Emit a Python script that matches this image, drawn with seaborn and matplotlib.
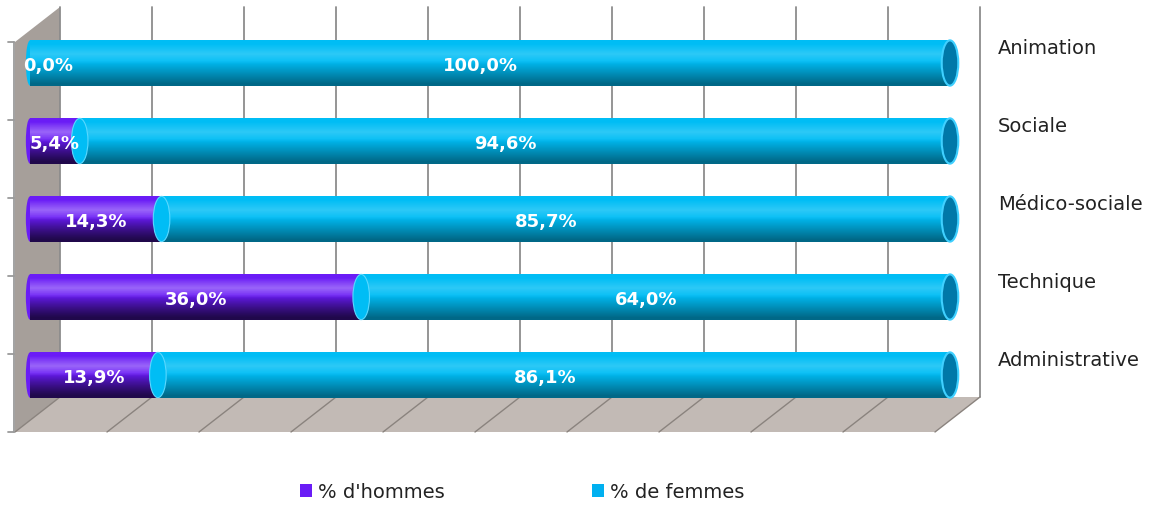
import numpy as np
import pandas as pd
import seaborn as sns
import matplotlib.pyplot as plt
from matplotlib.patches import Polygon, Ellipse, Patch

# Data
categories = ["Animation", "Sociale", "Médico-sociale", "Technique", "Administrative"]
pct_hommes = [0.0, 5.4, 14.3, 36.0, 13.9]
pct_femmes = [100.0, 94.6, 85.7, 64.0, 86.1]
grid_ticks = list(range(0, 101, 10))

purple = "#6A1CF6"
cyan = "#00BDF5"
cap_col = "#0078A8"

df = pd.DataFrame({"cat": categories, "hommes": pct_hommes, "femmes": pct_femmes})
df["total"] = df["hommes"] + df["femmes"]

sns.set_style("white")
plt.rcParams["font.family"] = ["DejaVu Sans"]

W, H = 1169, 510
fig = plt.figure(figsize=(W / 100, H / 100), dpi=100)

# background: 3D-ish wall, floor and gridlines (pixel coordinates)
bg = fig.add_axes([0, 0, 1, 1], zorder=0)
bg.set_xlim(0, W)
bg.set_ylim(H, 0)
bg.axis("off")
x0, scale = 30, 9.2
back_dx, back_top, back_bot, front_bot = 30, 8, 398, 433
bx = [x0 + back_dx + t * scale for t in grid_ticks]
bg.add_patch(Polygon([(15, 43), (bx[0], back_top), (bx[0], back_bot), (15, front_bot)],
                     closed=True, fc="#A69F9A", ec="none"))
bg.add_patch(Polygon([(bx[0], back_bot), (bx[-1], back_bot), (bx[-1] - 45, front_bot), (15, front_bot)],
                     closed=True, fc="#C2BAB5", ec="none"))
for x in bx:
    bg.plot([x, x], [back_top, back_bot], color="#8C8C8C", lw=1.3)
    bg.plot([x, x - 45], [back_bot, front_bot], color="#8A837E", lw=1.0)
bg.plot([14, 14], [43, front_bot], color="#9A9A9A", lw=1.3)
for i in range(len(categories) + 1):
    yy = 43 + i * 78
    bg.plot([8, 14], [yy, yy], color="#9A9A9A", lw=1.3)

# bars
ax = fig.add_axes([x0 / W, 95 / H, 100 * scale / W, 390 / H], zorder=1)
ax.patch.set_alpha(0)
bh = 0.58
sns.barplot(data=df, x="total", y="cat", color=cyan, width=bh, ax=ax,
            saturation=1, orient="h", edgecolor="none")
sns.barplot(data=df, x="hommes", y="cat", color=purple, width=bh, ax=ax,
            saturation=1, orient="h", edgecolor="none")

# cylinder shading
g = np.linspace(0, 1, 100)
shade = np.zeros((100, 1, 4))
shade[:, 0, 3] = np.clip((g - 0.45) * 0.9, 0, 0.45)
hl = np.zeros((100, 1, 4))
hl[:, 0, :3] = 1
hl[:, 0, 3] = np.clip(0.18 - np.abs(g - 0.3) * 0.8, 0, 0.18)
for p in list(ax.patches):
    x, y = p.get_x(), p.get_y()
    w, h = p.get_width(), p.get_height()
    if w <= 0:
        continue
    for img in (shade, hl):
        im = ax.imshow(img, extent=[x, x + w, y + h, y], aspect="auto", zorder=3)
        im.set_clip_path(p)

ew = 1.8
for i, (m, t) in enumerate(zip(df["hommes"], df["total"])):
    left_col = purple if m > 0 else cyan
    ax.add_patch(Ellipse((0, i), 0.9, bh, fc=left_col, ec="none", zorder=1, clip_on=False))
    if m > 0:
        ax.add_patch(Ellipse((m, i), ew, bh, fc=cyan, ec="#5AD8FF", lw=0.8, zorder=4))
    ax.add_patch(Ellipse((t, i), ew, bh, fc=cap_col, ec="#3FD0FF", lw=1.5, zorder=4,
                         clip_on=False))

# value labels
for i, (m, f) in enumerate(zip(df["hommes"], df["femmes"])):
    ax.text(max(m / 2, 2.0), i + 0.02, f"{m:.1f}%".replace(".", ","), color="white",
            fontsize=13, fontweight="bold", ha="center", va="center", zorder=6)
    ax.text(m + f / 2 - 1, i + 0.02, f"{f:.1f}%".replace(".", ","), color="white",
            fontsize=13, fontweight="bold", ha="center", va="center", zorder=6)

ax.set_xlim(0, 100)
ax.set_ylim(len(categories) - 0.5, -0.5)
ax.axis("off")

# category labels on the right
for i, c in enumerate(categories):
    ax.text(1.0 + (998 - 950) / (100 * scale), i - 0.2, c, transform=ax.get_yaxis_transform(),
            fontsize=14, color="#222222", ha="left", va="center", clip_on=False)

# legend
handles = [Patch(fc=purple, ec="none"), Patch(fc="#00B0F0", ec="none")]
fig.legend(handles, ["% d'hommes", "% de femmes"], loc="center",
           bbox_to_anchor=(522 / W, 1 - 493 / H), ncol=2, frameon=False,
           fontsize=14, handlelength=0.6, handleheight=0.6, handletextpad=0.3,
           columnspacing=7.6, labelcolor="#222222")

fig.savefig("out.png", dpi=100)
